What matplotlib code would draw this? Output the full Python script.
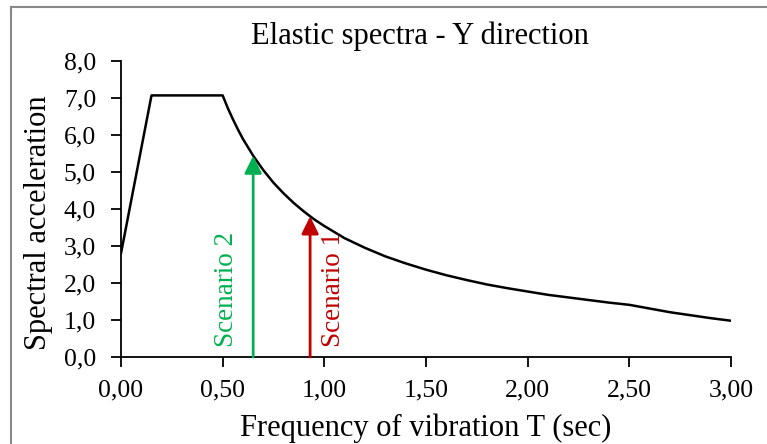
import matplotlib
matplotlib.use("Agg")
import matplotlib.pyplot as plt
from matplotlib.lines import Line2D
from matplotlib.ticker import FuncFormatter

# Data
period = [0.00, 0.15, 0.50, 0.525, 0.55, 0.575, 0.60, 0.65, 0.70, 0.75, 0.80,
          0.85, 0.90, 0.95, 1.00, 1.10, 1.20, 1.30, 1.40, 1.50, 1.60, 1.70,
          1.80, 1.90, 2.00, 2.10, 2.20, 2.30, 2.40, 2.45, 2.50, 2.55, 2.60,
          2.70, 2.80, 2.90, 3.00]
accel = [2.80, 7.07, 7.07, 6.73, 6.43, 6.15, 5.89, 5.44, 5.05, 4.71, 4.42,
         4.16, 3.93, 3.72, 3.54, 3.21, 2.95, 2.72, 2.53, 2.36, 2.21, 2.08,
         1.96, 1.86, 1.77, 1.68, 1.61, 1.54, 1.47, 1.44, 1.41, 1.36, 1.31,
         1.21, 1.13, 1.05, 0.98]
scenario_names = ["Scenario 2", "Scenario 1"]
scenario_T = [0.65, 0.93]
scenario_Sa = [5.44, 3.80]
scenario_colors = ["#00B050", "#C00000"]
x_ticks = [0.0, 0.5, 1.0, 1.5, 2.0, 2.5, 3.0]
y_ticks = [0, 1, 2, 3, 4, 5, 6, 7, 8]

font = "Liberation Serif"
W, H = 767, 444
fig = plt.figure(figsize=(W / 100, H / 100), dpi=100)
ax = fig.add_axes([121 / W, 1 - 357 / H, (731 - 121) / W, (357 - 61) / H])

ax.plot(period, accel, color="black", lw=1.8, solid_joinstyle="round")

offsets = [-0.133, 0.116]
for name, t, sa, c, off in zip(scenario_names, scenario_T, scenario_Sa, scenario_colors, offsets):
    ax.annotate("", xy=(t, sa), xytext=(t, 0.0),
                arrowprops=dict(arrowstyle="-|>,head_length=1.05,head_width=0.52",
                                color=c, lw=2.0, shrinkA=0, shrinkB=0))
    ax.text(t + off, 0.27, name, rotation=90, color=c, fontsize=19.5,
            family=font, ha="center", va="bottom")

ax.set_xlim(0, 3.0)
ax.set_ylim(0, 8.0)
ax.set_xticks(x_ticks)
ax.set_yticks(y_ticks)
ax.xaxis.set_major_formatter(FuncFormatter(lambda v, p: f"{v:.2f}".replace(".", ",")))
ax.yaxis.set_major_formatter(FuncFormatter(lambda v, p: f"{v:.1f}".replace(".", ",")))
for lab in ax.get_xticklabels() + ax.get_yticklabels():
    lab.set_family(font)
    lab.set_fontsize(18.5)
ax.tick_params(direction="out", length=7, width=1.3, color="black")
ax.tick_params(axis="y", pad=11)
ax.tick_params(axis="x", pad=9)
ax.spines["top"].set_visible(False)
ax.spines["right"].set_visible(False)
for s in ("left", "bottom"):
    ax.spines[s].set_linewidth(1.3)
ax.set_xlabel("Frequency of vibration T (sec)", family=font, fontsize=22, labelpad=9)
ax.set_ylabel("Spectral acceleration", family=font, fontsize=22, labelpad=8, y=0.455)
fig.text(420 / W, 1 - 36 / H, "Elastic spectra - Y direction", family=font,
         fontsize=22, ha="center", va="center")

# chart-area border (left and top)
fig.add_artist(Line2D([10.5 / W, 10.5 / W], [0, 1 - 7.5 / H], color="#888888", lw=1.5,
                      transform=fig.transFigure))
fig.add_artist(Line2D([10.5 / W, 1], [1 - 7.5 / H, 1 - 7.5 / H], color="#888888", lw=1.5,
                      transform=fig.transFigure))

fig.savefig("out.png", dpi=100)
